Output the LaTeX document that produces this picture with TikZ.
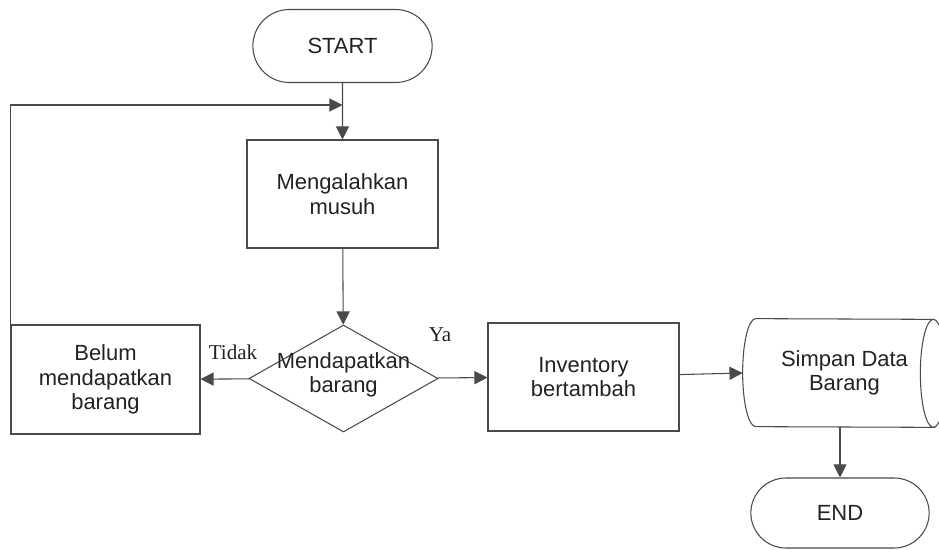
\documentclass[tikz,border=0pt]{standalone}
\usepackage{fontspec}
\setmainfont{Liberation Sans}
\newfontfamily\labelfont{Liberation Serif}
\usepackage{tikz}
\usetikzlibrary{shapes.geometric,shapes.misc,arrows.meta}
\definecolor{garis}{HTML}{4A4A4A}
\definecolor{tulisan}{HTML}{222222}

\begin{document}
\begin{tikzpicture}[
    font=\fontsize{12.5}{14}\selectfont,
    every node/.style={text=tulisan},
    tepi/.style={draw=garis, line width=0.6pt},
    box/.style={tepi, rectangle, align=center,
      minimum width=3.82cm, minimum height=2.16cm},
    term/.style={tepi, rounded rectangle,
      minimum width=3.82cm, minimum height=1.46cm},
    decision/.style={tepi, diamond, inner sep=0pt,
      minimum width=3.78cm, minimum height=2.14cm},
    arr/.style={tepi, -{Triangle[length=7.5pt,width=7.5pt]}},
    ket/.style={font=\labelfont\fontsize{12}{14}\selectfont}
  ]
  \useasboundingbox (0,0) rectangle (18.78,-11);
  \clip (0,0) rectangle (18.78,-11);

  \node[term] (start) at (6.85,-0.92) {START};
  \node[box] (musuh) at (6.85,-3.88) {Mengalahkan\\musuh};
  \node[decision] (cek) at (6.87,-7.57) {};
  \node[align=center] (cektxt) at (6.87,-7.5) {Mendapatkan\\barang};
  \node[box, minimum width=3.78cm, minimum height=2.18cm] (belum) at (2.11,-7.59) {Belum\\mendapatkan\\barang};
  \node[box] (inv) at (11.67,-7.54) {Inventory\\bertambah};
  \node[align=center, minimum width=3.54cm, minimum height=2.16cm] (simpan) at (16.89,-7.46) {Simpan Data\\Barang};
  \node[term, minimum width=3.8cm, minimum height=1.4cm] (end) at (16.8,-10.26) {END};

  % stored data: body with curved left side and an end ellipse on the right
  \draw[tepi] (simpan.north west)
    arc[start angle=90, end angle=270, x radius=0.26cm, y radius=1.08cm]
    -- (simpan.south east)
    arc[start angle=270, end angle=90, x radius=0.26cm, y radius=1.08cm]
    -- cycle;
  \draw[tepi] (simpan.south east)
    arc[start angle=-90, end angle=90, x radius=0.26cm, y radius=1.08cm];

  \coordinate (gabung) at (6.85,-2.1);
  \coordinate (simpanmasuk) at ([xshift=-0.26cm]simpan.west);

  \draw[arr] (start) -- (musuh);
  \draw[arr] (belum.north west) |- (gabung);
  \draw[arr] (musuh) -- (cek);
  \draw[arr] (cek) -- (belum);
  \draw[arr] (cek) -- (inv);
  \draw[arr] (inv) -- (simpanmasuk);
  \draw[arr] (end.north |- simpan.south) -- (end.north);

  \node[ket] (tidak) at (4.66,-7.04) {Tidak};
  \node[ket] (ya) at (8.8,-6.7) {Ya};
\end{tikzpicture}
\end{document}
